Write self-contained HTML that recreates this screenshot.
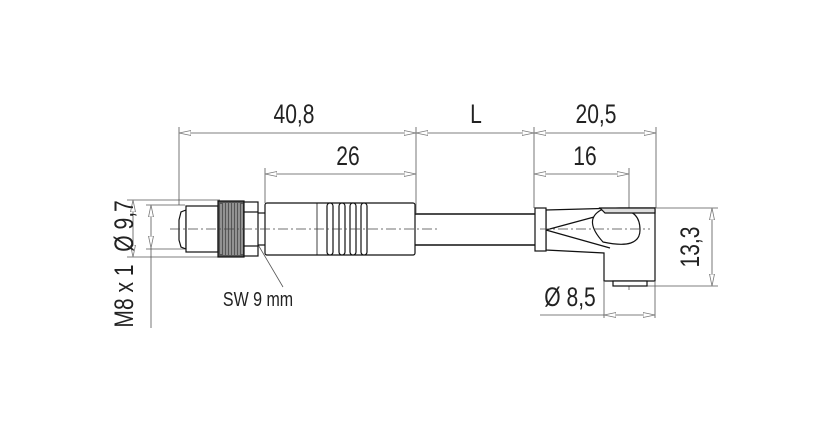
<!DOCTYPE html>
<html><head><style>
html,body{margin:0;padding:0;background:#fff;}
svg text{font-family:"Liberation Sans",sans-serif;fill:#222;}
</style></head><body>
<svg width="815" height="429" viewBox="0 0 815 429" xmlns="http://www.w3.org/2000/svg">
<defs>
<marker id="a" viewBox="0 0 12 6" refX="12" refY="3" markerWidth="12" markerHeight="6" orient="auto-start-reverse" markerUnits="userSpaceOnUse">
<path d="M12,3 L0,0.5 L0,5.5 Z" fill="#fff" stroke="#777" stroke-width="0.8"/>
</marker>
</defs>
<g stroke="#555" stroke-width="0.8" fill="none">
<line x1="179" y1="127" x2="179" y2="205"/>
<line x1="416" y1="127" x2="416" y2="213"/>
<line x1="534" y1="127" x2="534" y2="208"/>
<line x1="656" y1="127" x2="656" y2="208"/>
<line x1="265" y1="168" x2="265" y2="203"/>
<line x1="629" y1="168" x2="629" y2="290"/>
<line x1="179" y1="133" x2="416" y2="133" marker-start="url(#a)" marker-end="url(#a)"/>
<line x1="416" y1="133" x2="534" y2="133" marker-start="url(#a)" marker-end="url(#a)"/>
<line x1="534" y1="133" x2="656" y2="133" marker-start="url(#a)" marker-end="url(#a)"/>
<line x1="265" y1="174" x2="416" y2="174" marker-start="url(#a)" marker-end="url(#a)"/>
<line x1="534" y1="174" x2="629" y2="174" marker-start="url(#a)" marker-end="url(#a)"/>
<line x1="127" y1="200" x2="220" y2="200"/>
<line x1="127" y1="257" x2="220" y2="257"/>
<line x1="133" y1="200" x2="133" y2="257" marker-start="url(#a)" marker-end="url(#a)"/>
<line x1="146" y1="205" x2="185" y2="205"/>
<line x1="151" y1="205" x2="151" y2="248" marker-start="url(#a)" marker-end="url(#a)"/>
<line x1="151" y1="248" x2="151" y2="328"/>
<line x1="146" y1="249" x2="185" y2="249"/>
<line x1="656" y1="208" x2="718" y2="208"/>
<line x1="640" y1="286" x2="718" y2="286"/>
<line x1="712" y1="208" x2="712" y2="286" marker-start="url(#a)" marker-end="url(#a)"/>
<line x1="604" y1="282" x2="604" y2="318"/>
<line x1="655" y1="282" x2="655" y2="318"/>
<line x1="540" y1="315" x2="604" y2="315"/>
<line x1="604" y1="315" x2="655" y2="315" marker-start="url(#a)" marker-end="url(#a)"/>
<line x1="250" y1="231" x2="283" y2="287"/>
</g>
<g stroke="#111" stroke-width="1.2" fill="#fff">
<path d="M186,210 L181,212 L179,220 L179,240 L181,247 L186,249 Z"/>
<rect x="186" y="206" width="32" height="46"/>
<rect x="218" y="201" width="26" height="56" fill="#555"/>
<g stroke="#eee" stroke-width="0.8">
<line x1="221" y1="204" x2="221" y2="254"/><line x1="224" y1="203" x2="224" y2="255"/>
<line x1="227" y1="203" x2="227" y2="255"/><line x1="230" y1="203" x2="230" y2="255"/>
<line x1="233" y1="203" x2="233" y2="255"/><line x1="236" y1="203" x2="236" y2="255"/>
<line x1="239" y1="203" x2="239" y2="255"/><line x1="242" y1="204" x2="242" y2="254"/>
</g>
<rect x="244" y="202" width="14" height="54"/>
<line x1="244" y1="212" x2="258" y2="212"/>
<line x1="244" y1="246" x2="258" y2="246"/>
<line x1="258" y1="213" x2="265" y2="213"/>
<line x1="258" y1="245" x2="265" y2="245"/>
<rect x="265" y="203" width="150" height="52" rx="2"/>
<line x1="317" y1="203" x2="317" y2="255" stroke-width="0.8"/>
<rect x="327" y="203" width="6" height="52" rx="3"/>
<rect x="339" y="203" width="6" height="52" rx="3"/>
<rect x="350" y="203" width="6" height="52" rx="3"/>
<rect x="361" y="203" width="6" height="52" rx="3"/>
<line x1="415" y1="214" x2="535" y2="214" stroke-width="1.6"/>
<line x1="415" y1="245" x2="535" y2="245" stroke-width="1.6"/>
<path d="M546,210 L620,208 L655,208 L655,281 L604,281 L604,253 L546,250 Z"/>
<path d="M546,230 L620,210 M546,230 L610,248" fill="none"/>
<path d="M601,210 Q583,220 603,242 Q640,250 640,230 Q640,210 620,210 Z" fill="#fff"/>
<path d="M600,208 L655,208 L655,213 L605,213 Z" fill="#ddd"/>
<rect x="613" y="281" width="34" height="5"/>
<rect x="535" y="208" width="11" height="43"/>
</g>
<g stroke="#444" stroke-width="0.7" stroke-dasharray="10,3,2,3">
<line x1="170" y1="229" x2="440" y2="229"/>
<line x1="540" y1="229" x2="650" y2="229"/>
</g>
<g font-size="27">
<text transform="translate(294,123) scale(0.78,1)" text-anchor="middle">40,8</text>
<text transform="translate(476,123) scale(0.78,1)" text-anchor="middle">L</text>
<text transform="translate(596,123) scale(0.78,1)" text-anchor="middle">20,5</text>
<text transform="translate(348,165) scale(0.78,1)" text-anchor="middle">26</text>
<text transform="translate(585,165) scale(0.78,1)" text-anchor="middle">16</text>
<text transform="translate(570,306) scale(0.78,1)" text-anchor="middle">Ø 8,5</text>
<text transform="translate(699,247) rotate(-90) scale(0.78,1)" text-anchor="middle">13,3</text>
<text transform="translate(133,226) rotate(-90) scale(0.78,1)" text-anchor="middle">Ø 9,7</text>
<text transform="translate(133,296) rotate(-90) scale(0.78,1)" text-anchor="middle">M8 x 1</text>
</g>
<text transform="translate(258,306) scale(0.8,1)" font-size="20" text-anchor="middle">SW 9 mm</text>
</svg>
</body></html>
